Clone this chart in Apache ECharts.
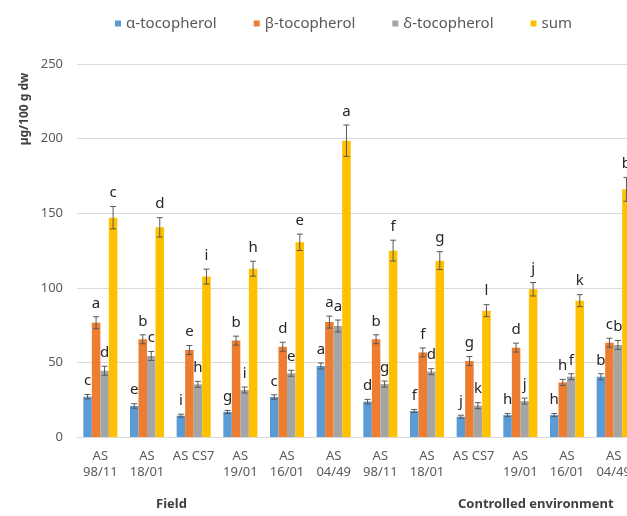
<!DOCTYPE html>
<html>
<head>
<meta charset="utf-8">
<script src="https://cdn.jsdelivr.net/npm/echarts@6/dist/echarts.min.js"></script>
<style>
html,body{margin:0;padding:0;background:#fff;}
#chart{width:627px;height:516px;}
</style>
</head>
<body>
<div id="chart"></div>
<script>
var categories=['AS\n98/11','AS\n18/01','AS CS7','AS\n19/01','AS\n16/01','AS\n04/49','AS\n98/11','AS\n18/01','AS CS7','AS\n19/01','AS\n16/01','AS\n04/49'];
var alphaVals=[27,20.8,14.3,16.8,26.8,47.6,23.7,17.4,13.6,14.7,14.7,40.4];
var betaVals=[76.6,65.5,58.3,64.6,60.5,77,65.5,56.7,50.9,59.9,36.6,63.2];
var deltaVals=[44.4,54.3,35.3,31.5,42.7,74.4,35.5,43.8,21,24.1,40.4,61.7];
var sumVals=[147,140.5,107.5,112.8,130.5,198.6,124.9,118.2,84.7,99,91.4,166];
var alphaErr=[1.5,1.5,1,1,1.5,2,1.5,1,1,1,1,2];
var betaErr=[4,3,3,3,3,4,3,3,3,3,2,3];
var deltaErr=[3,3,2,2,2,4,2,2,2,2,2,3];
var sumErr=[7.5,6.5,5,5,5.5,10.5,7,6,4,4.5,4,8];
var alphaLetters=['c','e','i','g','c','a','d','f','j','h','h','b'];
var betaLetters=['a','b','e','b','d','a','b','f','g','d','h','c'];
var deltaLetters=['d','c','h','i','e','a','g','d','k','j','f','b'];
var sumLetters=['c','d','i','h','e','a','f','g','l','j','k','b'];
var yTicks=[0,50,100,150,200,250];

var names=['α-tocopherol','β-tocopherol','δ-tocopherol','sum'];
var colors=['#5B9BD5','#ED7D31','#A5A5A5','#FFC000'];
var vals=[alphaVals,betaVals,deltaVals,sumVals];
var errs=[alphaErr,betaErr,deltaErr,sumErr];
var letters=[alphaLetters,betaLetters,deltaLetters,sumLetters];
var catGap=0.27;
var font='"Noto Sans", sans-serif';

function errSeries(k){
    var data=[];
    for(var i=0;i<vals[k].length;i++){
        data.push([i,vals[k][i],errs[k][i]]);
    }
    return {
        type:'custom',
        name:names[k]+' err',
        data:data,
        encode:{x:0,y:1},
        z:5,
        silent:true,
        renderItem:function(params,api){
            var idx=api.value(0);
            var v=api.value(1);
            var e=api.value(2);
            var letter=letters[k][params.dataIndex];
            var band=api.size([1,0])[0];
            var bw=band*(1-catGap)/4;
            var base=api.coord([idx,v]);
            var x=base[0]+(k-1.5)*bw;
            var top=api.coord([idx,v+e])[1];
            var bot=api.coord([idx,v-e])[1];
            var c=3;
            var st={stroke:'#595959',lineWidth:1};
            return {
                type:'group',
                children:[
                    {type:'line',shape:{x1:x,y1:top,x2:x,y2:bot},style:st},
                    {type:'line',shape:{x1:x-c,y1:top,x2:x+c,y2:top},style:st},
                    {type:'line',shape:{x1:x-c,y1:bot,x2:x+c,y2:bot},style:st},
                    {type:'text',x:x,y:top-6,style:{text:letter,fill:'#262626',font:'15px '+font,align:'center',verticalAlign:'bottom'}}
                ]
            };
        }
    };
}

var series=[];
for(var k=0;k<4;k++){
    series.push({
        name:names[k],
        type:'bar',
        data:vals[k],
        itemStyle:{color:colors[k]},
        barGap:'0%',
        barCategoryGap:(catGap*100)+'%'
    });
}
for(var k2=0;k2<4;k2++){series.push(errSeries(k2));}

var myChart=echarts.init(document.getElementById('chart'));
var option={
    animation:false,
    textStyle:{fontFamily:font},
    legend:{
        data:names,
        top:11,
        left:110,
        icon:'rect',
        itemWidth:6,
        itemHeight:6,
        itemGap:37,
        textStyle:{color:'#595959',fontSize:15,fontFamily:font}
    },
    grid:{left:77,top:64,bottom:79,width:560,containLabel:false,outerBoundsMode:'none'},
    xAxis:{
        type:'category',
        data:categories,
        axisLine:{lineStyle:{color:'#d9d9d9'}},
        axisTick:{show:false},
        axisLabel:{color:'#595959',fontSize:13,lineHeight:16,margin:11,interval:0,verticalAlign:'top'}
    },
    yAxis:{
        type:'value',
        min:yTicks[0],
        max:yTicks[yTicks.length-1],
        interval:50,
        axisLine:{show:false},
        axisTick:{show:false},
        axisLabel:{color:'#595959',fontSize:13,margin:14},
        splitLine:{lineStyle:{color:'#d9d9d9'}}
    },
    graphic:[
        {type:'text',x:25,y:109,rotation:Math.PI/2,style:{text:'µg/100 g dw',fill:'#404040',font:'bold 12px '+font,align:'center',verticalAlign:'middle'}},
        {type:'text',left:156,top:498,style:{text:'Field',fill:'#404040',font:'bold 13px '+font}},
        {type:'text',left:458,top:498,style:{text:'Controlled environment',fill:'#404040',font:'bold 13px '+font}}
    ],
    series:series
};
myChart.setOption(option);
</script>
</body>
</html>
